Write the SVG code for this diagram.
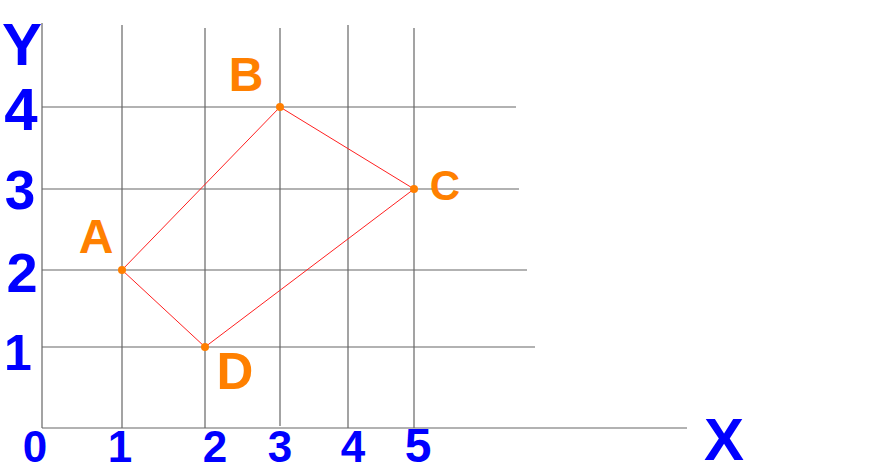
<svg xmlns="http://www.w3.org/2000/svg" width="869" height="474" viewBox="0 0 869 474">
<style>
.grid line{stroke:#666;stroke-width:1.2}
.edge{stroke:#ff2020;stroke-width:1;fill:none}
.dot{fill:#ff7f00}
.ax{font-family:"Liberation Sans",Arial,sans-serif;font-weight:bold;fill:#0000ff;text-anchor:middle}
.pt{font-family:"Liberation Sans",Arial,sans-serif;font-weight:bold;fill:#ff8000;text-anchor:middle}
</style>
<rect width="869" height="474" fill="#fff"/>
<g id="grid" class="grid">
<line x1="42" y1="23" x2="42" y2="428"/>
<line x1="122" y1="25" x2="122" y2="428"/>
<line x1="205" y1="28" x2="205" y2="428"/>
<line x1="280" y1="28" x2="280" y2="426"/>
<line x1="348" y1="25" x2="348" y2="428"/>
<line x1="414" y1="28" x2="414" y2="428"/>
<line x1="42" y1="107" x2="516" y2="107"/>
<line x1="42" y1="189" x2="519" y2="189"/>
<line x1="42" y1="270" x2="527" y2="270"/>
<line x1="42" y1="347" x2="535" y2="347"/>
<line x1="42" y1="428" x2="687" y2="428"/>
</g>
<g id="connectors">
<line class="edge" x1="122" y1="270" x2="280" y2="107"/>
<line class="edge" x1="280" y1="107" x2="414" y2="189"/>
<line class="edge" x1="414" y1="189" x2="205" y2="347"/>
<line class="edge" x1="205" y1="347" x2="122" y2="270"/>
</g>
<g id="axis-labels">
<text class="ax" x="22" y="65" font-size="60">Y</text>
<text class="ax" x="21" y="130" font-size="60">4</text>
<text class="ax" x="20" y="209" font-size="55">3</text>
<text class="ax" x="22" y="292" font-size="56">2</text>
<text class="ax" x="18" y="370" font-size="50">1</text>
<text class="ax" x="35" y="462" font-size="44">0</text>
<text class="ax" x="120" y="462" font-size="44">1</text>
<text class="ax" x="215" y="462" font-size="44">2</text>
<text class="ax" x="280" y="462" font-size="44">3</text>
<text class="ax" x="353" y="462" font-size="44">4</text>
<text class="ax" x="418" y="462" font-size="48">5</text>
<text class="ax" x="724" y="460" font-size="60">X</text>
</g>
<g id="node-A">
<circle class="dot" cx="122" cy="270" r="4"/>
<text class="pt" x="96" y="253" font-size="48">A</text>
</g>
<g id="node-B">
<circle class="dot" cx="280" cy="107" r="4"/>
<text class="pt" x="246" y="91" font-size="48">B</text>
</g>
<g id="node-C">
<circle class="dot" cx="414" cy="189" r="4"/>
<text class="pt" x="445" y="200" font-size="42">C</text>
</g>
<g id="node-D">
<circle class="dot" cx="205" cy="347" r="4"/>
<text class="pt" x="235" y="389" font-size="51">D</text>
</g>
</svg>
